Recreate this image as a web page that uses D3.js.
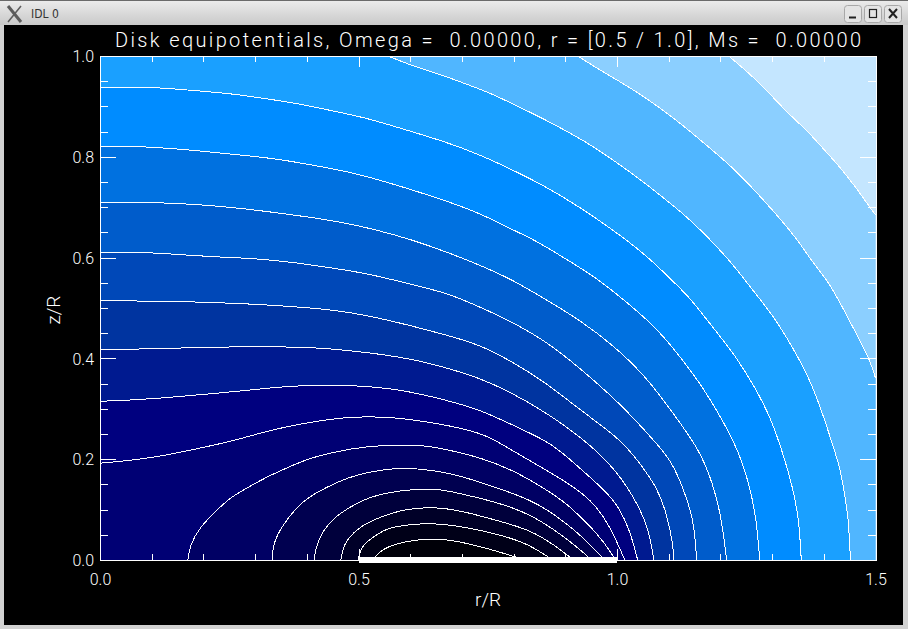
<!DOCTYPE html>
<html><head><meta charset="utf-8">
<style>
html,body{margin:0;padding:0;background:#000;overflow:hidden}
svg{display:block}
text{font-family:"Roboto","Liberation Sans",sans-serif;font-weight:300;white-space:pre}
.axis path,.axis line{stroke:#fff;stroke-width:1;shape-rendering:crispEdges;fill:none}
.axis text{fill:#fff;font-size:16px;font-family:"Roboto","Liberation Sans",sans-serif;font-weight:300}
</style>
<script src="https://cdn.jsdelivr.net/npm/d3@7"></script>
</head><body>
<svg id="c" width="908" height="629"></svg>
<script>
const titleText = "Disk equipotentials, Omega =  0.00000, r = [0.5 / 1.0], Ms =  0.00000";
const windowTitle = "IDL 0";
const xLabel = "r/R", yLabel = "z/R";
const xMajor = [0, 0.5, 1.0, 1.5];
const xMinor = [0.1,0.2,0.3,0.4,0.6,0.7,0.8,0.9,1.1,1.2,1.3,1.4];
const yMajor = [0, 0.2, 0.4, 0.6, 0.8, 1.0];
const yMinor = [0.05,0.1,0.15,0.25,0.3,0.35,0.45,0.5,0.55,0.65,0.7,0.75,0.85,0.9,0.95];
const diskRange = [0.5, 1.0];
const backgroundColor = "#c4e6ff";
const bandColors = ["#8bcfff","#50b6ff","#1aa0ff","#008cff","#0071e0","#005ccb","#0048b8","#0034a0","#001a90","#00007f","#000074","#000064","#000050","#00003c","#000028","#000018","#000008"];

const c1 = [[1.216,1],[1.237,.982],[1.270,.952],[1.301,.919],[1.334,.883],[1.367,.853],[1.398,.817],[1.431,.780],[1.463,.738],[1.489,.700],[1.5,.685]];
const c2 = [[.924,1],[.967,.972],[1.001,.952],[1.044,.925],[1.083,.897],[1.127,.863],[1.173,.823],[1.218,.784],[1.257,.744],[1.301,.694],[1.334,.655],[1.363,.615],[1.378,.591],[1.411,.550],[1.444,.486],[1.469,.437],[1.489,.397],[1.5,.361]];
const c3 = [[.557,1],[.605,.980],[.657,.964],[.709,.944],[.754,.927],[.798,.905],[.851,.879],[.895,.855],[.941,.829],[.992,.794],[1.044,.756],[1.088,.720],[1.127,.688],[1.166,.651],[1.218,.595],[1.262,.536],[1.301,.486],[1.328,.442],[1.353,.397],[1.376,.351],[1.402,.278],[1.417,.228],[1.431,.185],[1.440,.133],[1.448,.079],[1.450,.026],[1.452,0]];
const c4 = [[0,.938],[.091,.938],[.130,.936],[.188,.931],[.257,.925],[.323,.915],[.387,.905],[.450,.891],[.516,.877],[.580,.857],[.671,.829],[.735,.804],[.798,.774],[.864,.740],[.928,.700],[.992,.655],[1.057,.605],[1.121,.540],[1.141,.520],[1.185,.462],[1.231,.403],[1.270,.337],[1.299,.278],[1.320,.214],[1.340,.145],[1.353,.073],[1.355,.014],[1.357,0]];
const c5 = [[0,.821],[.073,.821],[.160,.815],[.226,.808],[.290,.802],[.354,.794],[.419,.782],[.483,.770],[.547,.752],[.605,.734],[.671,.712],[.735,.688],[.798,.655],[.841,.635],[.895,.601],[.961,.560],[1.025,.506],[1.077,.460],[1.127,.397],[1.166,.343],[1.204,.278],[1.237,.212],[1.257,.145],[1.270,.079],[1.276,0]];
const c6 = [[0,.710],[.073,.710],[.141,.708],[.207,.704],[.271,.698],[.334,.690],[.400,.681],[.464,.671],[.528,.657],[.605,.635],[.671,.611],[.735,.585],[.798,.556],[.864,.516],[.928,.476],[.992,.427],[1.057,.363],[1.108,.292],[1.160,.218],[1.185,.153],[1.202,.085],[1.212,0]];
const c7 = [[0,.611],[.073,.611],[.141,.607],[.226,.601],[.290,.599],[.373,.591],[.450,.579],[.516,.569],[.605,.546],[.671,.530],[.735,.502],[.798,.472],[.864,.433],[.928,.381],[.992,.323],[1.030,.284],[1.083,.224],[1.108,.192],[1.137,.119],[1.150,.065],[1.154,0]];
const c8 = [[0,.514],[.126,.514],[.242,.510],[.290,.508],[.387,.502],[.450,.496],[.516,.486],[.605,.464],[.671,.446],[.735,.427],[.798,.393],[.864,.351],[.928,.298],[1.009,.238],[1.044,.192],[1.077,.145],[1.096,.093],[1.108,.034],[1.110,0]];
const c9 = [[0,.417],[.093,.419],[.174,.421],[.242,.423],[.392,.423],[.445,.419],[.509,.413],[.605,.399],[.671,.381],[.735,.361],[.798,.331],[.864,.292],[.938,.238],[.999,.179],[1.044,.105],[1.063,.054],[1.071,0]];
const c10 = [[0,.315],[.058,.317],[.141,.323],[.226,.331],[.290,.337],[.342,.343],[.406,.347],[.489,.347],[.580,.339],[.671,.317],[.735,.298],[.798,.268],[.860,.238],[.889,.218],[.947,.165],[.997,.119],[1.025,.060],[1.040,0]];
const c11 = [[0,.192],[.064,.198],[.130,.208],[.193,.222],[.257,.236],[.323,.256],[.387,.270],[.450,.280],[.489,.284],[.557,.284],[.605,.278],[.671,.268],[.735,.252],[.764,.238],[.806,.212],[.903,.155],[.951,.119],[.986,.069],[1.015,0]];
const d1 = [[.170,0],[.174,.030],[.193,.065],[.226,.099],[.251,.123],[.284,.143],[.323,.165],[.362,.183],[.400,.200],[.450,.214],[.516,.226],[.580,.228],[.624,.228],[.677,.218],[.740,.202],[.806,.175],[.870,.135],[.899,.115],[.947,.069],[.976,.034],[.997,0]];
const d2 = [[.333,0],[.334,.030],[.352,.069],[.392,.119],[.439,.145],[.483,.165],[.522,.175],[.574,.183],[.619,.181],[.677,.173],[.740,.153],[.837,.119],[.889,.083],[.934,.046],[.976,0]];
const d3c = [[.414,0],[.419,.036],[.445,.079],[.483,.105],[.516,.123],[.561,.135],[.613,.141],[.657,.141],[.709,.129],[.773,.113],[.831,.091],[.879,.060],[.918,.030],[.951,0]];
const d4 = [[.466,0],[.470,.030],[.497,.063],[.535,.083],[.593,.103],[.657,.105],[.709,.095],[.773,.077],[.831,.060],[.879,.030],[.916,0]];
const d5 = [[.499,0],[.506,.030],[.535,.050],[.555,.063],[.599,.071],[.651,.073],[.709,.065],[.773,.050],[.825,.034],[.876,0]];
const d6 = [[.526,0],[.547,.024],[.593,.038],[.651,.044],[.709,.034],[.773,.016],[.822,0]];
const contours = [c1,c2,c3,c4,c5,c6,c7,c8,c9,c10,c11,d1,d2,d3c,d4,d5,d6];

const svg = d3.select("#c");
const X = d3.scaleLinear().domain([0,1.5]).range([100,875.5]);
const Y = d3.scaleLinear().domain([0,1]).range([560,56]);

/* window frame */
const defs = svg.append("defs");
const g = defs.append("linearGradient").attr("id","tb").attr("x1",0).attr("x2",0).attr("y1",0).attr("y2",1);
g.append("stop").attr("offset",0).attr("stop-color","#ececec");
g.append("stop").attr("offset",1).attr("stop-color","#c9c9c9");
svg.append("rect").attr("width",908).attr("height",629).attr("fill","#d2d2d2");
svg.append("rect").attr("width",908).attr("height",25).attr("fill","url(#tb)");
svg.append("rect").attr("width",908).attr("height",1).attr("fill","#6a6a6a");
svg.append("rect").attr("x",4).attr("y",25).attr("width",899).attr("height",600).attr("fill","#000");
const logo = svg.append("g").attr("stroke","#5c5c5c").attr("fill","none");
logo.append("path").attr("d","M8 6 L21 22").attr("stroke-width",3);
logo.append("path").attr("d","M21 6 L8 22").attr("stroke-width",1.5);
svg.append("text").attr("x",31).attr("y",18).attr("fill","#333").style("font-size","12px").style("font-weight",500).style("font-family","'DejaVu Sans Condensed','Liberation Sans',sans-serif").text(windowTitle);
[844,864,884].forEach((bx,i)=>{
  svg.append("rect").attr("x",bx+.5).attr("y",5.5).attr("width",17).attr("height",17).attr("rx",3).attr("fill","#e4e4e4").attr("stroke","#a8a8a8");
  const s = svg.append("g").attr("stroke","#222").attr("fill","none");
  if(i===0) s.append("path").attr("d",`M${bx+5} 17.5H${bx+12}`).attr("stroke-width",2);
  if(i===1) s.append("rect").attr("x",bx+5.5).attr("y",9.5).attr("width",7).attr("height",8).attr("stroke-width",1.2);
  if(i===2) s.append("path").attr("d",`M${bx+5} 9L${bx+13} 18M${bx+13} 9L${bx+5} 18`).attr("stroke-width",2);
});

/* filled bands and contours */
defs.append("clipPath").attr("id","plot").append("rect").attr("x",100).attr("y",56).attr("width",776).attr("height",504);
const plot = svg.append("g").attr("clip-path","url(#plot)");
plot.append("rect").attr("x",X(0)).attr("y",Y(1)).attr("width",X(1.5)-X(0)+.5).attr("height",Y(0)-Y(1)).attr("fill",backgroundColor);
const line = d3.line().x(d=>X(d[0])).y(d=>Y(d[1])).curve(d3.curveBasis);
function closing(i){
  const pt = (r,z)=>`L${X(r)},${Y(z)}`;
  if(i<2) return pt(1.5,0)+pt(0,0)+pt(0,1)+"Z";
  if(i===2) return pt(0,0)+pt(0,1)+"Z";
  if(i<=10) return pt(0,0)+"Z";
  return "Z";
}
contours.forEach((pts,i)=>{
  plot.append("path").attr("d",line(pts)+closing(i)).attr("fill",bandColors[i]).attr("stroke","none");
});
contours.forEach(pts=>{
  plot.append("path").attr("d",line(pts)).attr("fill","none").attr("stroke","#fff").attr("stroke-width",1).attr("shape-rendering","crispEdges");
});

/* axes */
const ax = (gen)=>svg.append("g").attr("class","axis").call(gen);
const none = ()=>"";
const fmt = d3.format(".1f");
ax(d3.axisBottom(X).tickValues(xMajor).tickSize(-11).tickSizeOuter(0).tickFormat(fmt)).attr("transform",`translate(0,${Y(0)})`)
  .selectAll("text").attr("y",25).attr("dy",0);
ax(d3.axisBottom(X).tickValues(xMinor).tickSize(-6).tickSizeOuter(0).tickFormat(none)).attr("transform",`translate(0,${Y(0)})`);
ax(d3.axisTop(X).tickValues(xMajor).tickSize(-11).tickSizeOuter(0).tickFormat(none)).attr("transform",`translate(0,${Y(1)})`);
ax(d3.axisTop(X).tickValues(xMinor).tickSize(-6).tickSizeOuter(0).tickFormat(none)).attr("transform",`translate(0,${Y(1)})`);
ax(d3.axisLeft(Y).tickValues(yMajor).tickSize(-16).tickSizeOuter(0).tickFormat(fmt)).attr("transform",`translate(${X(0)},0)`)
  .selectAll("text").attr("x",-6).attr("dy","0.36em");
ax(d3.axisLeft(Y).tickValues(yMinor).tickSize(-8).tickSizeOuter(0).tickFormat(none)).attr("transform",`translate(${X(0)},0)`);
ax(d3.axisRight(Y).tickValues(yMajor).tickSize(-16).tickSizeOuter(0).tickFormat(none)).attr("transform",`translate(${X(1.5)},0)`);
ax(d3.axisRight(Y).tickValues(yMinor).tickSize(-8).tickSizeOuter(0).tickFormat(none)).attr("transform",`translate(${X(1.5)},0)`);

/* disk bar */
svg.append("line").attr("x1",X(diskRange[0])).attr("x2",X(diskRange[1])).attr("y1",Y(0)).attr("y2",Y(0))
  .attr("stroke","#fff").attr("stroke-width",6).attr("shape-rendering","crispEdges");

/* labels */
svg.append("text").attr("x",115).attr("y",47).attr("fill","#fff").style("font-size","20px")
  .attr("textLength",746).attr("lengthAdjust","spacing").text(titleText);
svg.append("text").attr("x",488).attr("y",606).attr("text-anchor","middle").attr("fill","#fff").style("font-size","19px").text(xLabel);
svg.append("text").attr("transform","translate(60,310) rotate(-90)").attr("text-anchor","middle").attr("fill","#fff").style("font-size","19px").text(yLabel);
</script>
</body></html>
